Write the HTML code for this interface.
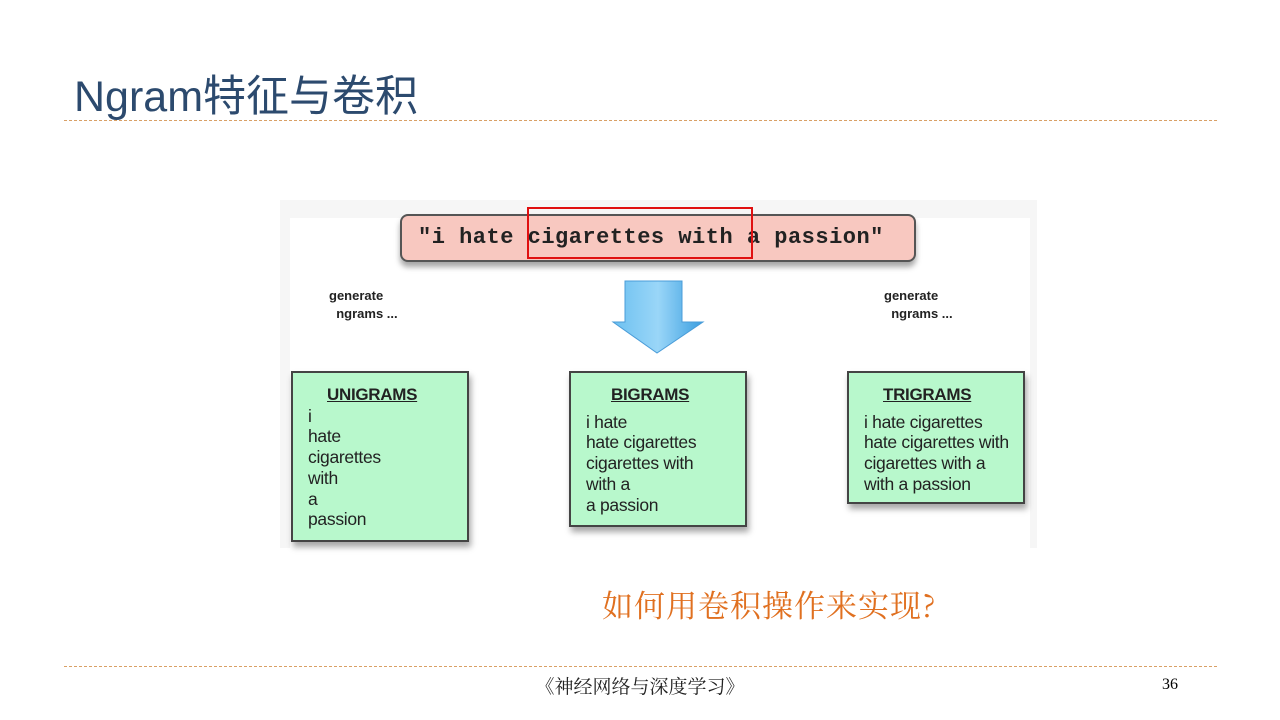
<!DOCTYPE html>
<html><head><meta charset="utf-8"><style>
body{margin:0;width:1280px;height:720px;background:#fff;position:relative;overflow:hidden;font-family:"Liberation Sans",sans-serif}
.a{position:absolute}
.title{left:74px;top:62px;font-size:43px;color:#2c4a6e;font-family:"Liberation Sans","Noto Sans CJK SC",sans-serif;white-space:nowrap}
.hr{left:64px;width:1153px;border-top:1px dashed #d9a066;height:0}
.img{left:280px;top:200px;width:757px;height:348px;background:#f6f6f6}
.inner{left:290px;top:218px;width:740px;height:330px;background:#fff}
.pink{left:400px;top:214px;width:512px;height:44px;background:#f8c8c0;border:2px solid #555;border-radius:8px;box-shadow:0 5px 6px rgba(0,0,0,.35);font-family:"Liberation Mono",monospace;font-weight:bold;font-size:22px;line-height:44px;text-align:left;padding-left:16px;box-sizing:content-box;letter-spacing:0.5px;color:#222;white-space:nowrap}
.red{left:527px;top:207px;width:222px;height:48px;border:2px solid #e01010}
.gen{font-size:13px;font-weight:bold;color:#222;line-height:18px}
.box{background:#b8f8cc;border:2px solid #444;box-shadow:2px 5px 6px rgba(0,0,0,.35);font-size:17.5px;color:#222;line-height:20.7px;box-sizing:border-box;padding-left:15px;white-space:nowrap;letter-spacing:-0.3px}
.box b{text-decoration:underline;display:block;font-size:17px;margin-top:12px}
.q{left:602px;top:581px;font-size:31px;color:#e07020;font-family:"Noto Serif CJK SC",serif;letter-spacing:1px;white-space:nowrap}
.foot{left:0;width:1280px;top:672px;text-align:center;font-size:19px;color:#222;font-family:"Liberation Serif","Noto Serif CJK SC",serif}
.pg{left:1162px;top:676px;font-size:16px;font-family:"Liberation Serif",serif}
</style></head><body>
<div class="a title">Ngram特征与卷积</div>
<div class="a hr" style="top:120px"></div>
<div class="a img"></div>
<div class="a inner"></div>
<div class="a pink" style="width:496px">"i hate cigarettes with a passion"</div>
<div class="a red"></div>
<div class="a gen" style="left:329px;top:287px">generate<br>&nbsp;&nbsp;ngrams ...</div>
<div class="a gen" style="left:884px;top:287px">generate<br>&nbsp;&nbsp;ngrams ...</div>
<svg class="a" style="left:610px;top:278px" width="100" height="80"><defs><linearGradient id="g" x1="0" x2="1"><stop offset="0" stop-color="#6cc0f0"/><stop offset=".5" stop-color="#9ad6f8"/><stop offset="1" stop-color="#3a9ee0"/></linearGradient></defs><path d="M15 3H72V44H93L47 75L3 44H15Z" fill="url(#g)" stroke="#4a9cd8"/></svg>
<div class="a box" style="left:291px;top:371px;width:178px;height:171px"><b style="margin-left:19px">UNIGRAMS</b>i<br>hate<br>cigarettes<br>with<br>a<br>passion</div>
<div class="a box" style="left:569px;top:371px;width:178px;height:156px"><b style="margin-left:25px;margin-bottom:6px">BIGRAMS</b>i hate<br>hate cigarettes<br>cigarettes with<br>with a<br>a passion</div>
<div class="a box" style="left:847px;top:371px;width:178px;height:133px"><b style="margin-left:19px;margin-bottom:6px">TRIGRAMS</b>i hate cigarettes<br>hate cigarettes with<br>cigarettes with a<br>with a passion</div>
<div class="a q">如何用卷积操作来实现?</div>
<div class="a hr" style="top:666px"></div>
<div class="a foot">《神经网络与深度学习》</div>
<div class="a pg">36</div>
</body></html>
